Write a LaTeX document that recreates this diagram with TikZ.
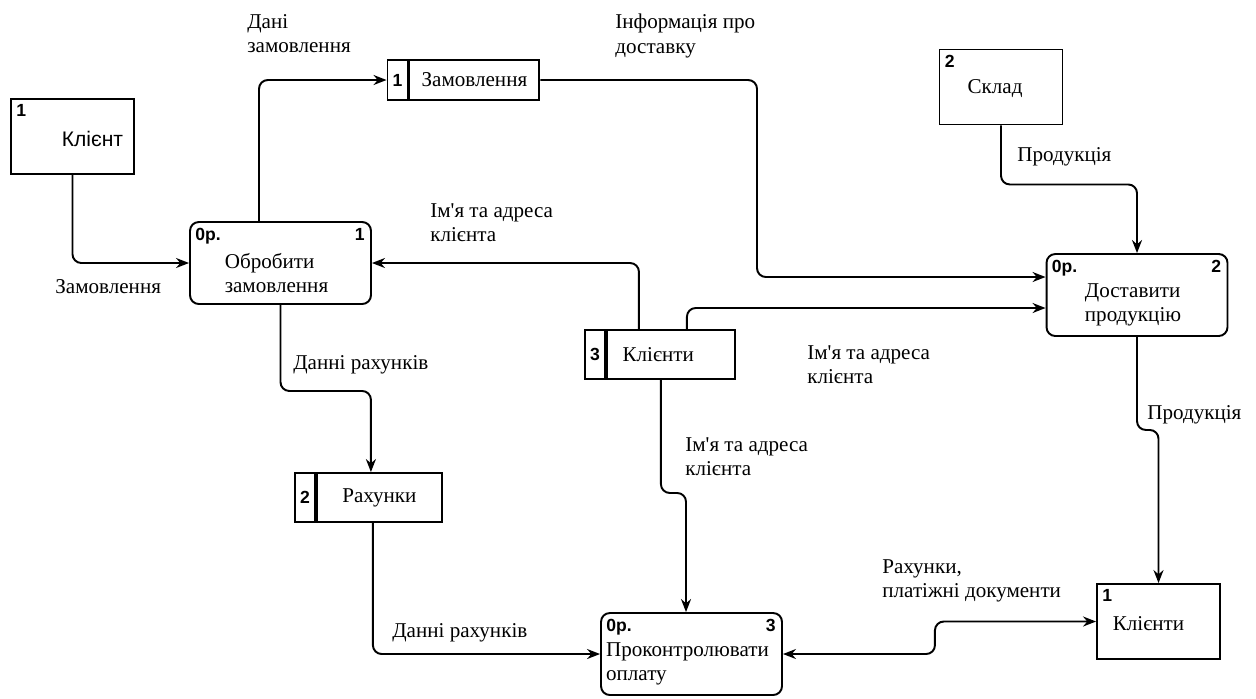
\documentclass[tikz,border=0pt]{standalone}
\usepackage{fontspec}
\setmainfont{Liberation Serif}[Ligatures=TeXOff]
\newfontfamily\numfont{Liberation Sans}
\usetikzlibrary{arrows.meta,positioning,calc}

\begin{document}
\begin{tikzpicture}[x=0.02cm,y=-0.02cm,>={Stealth[length=2.6mm,width=2mm]},
  font=\fontsize{12}{13.8}\selectfont,
  ent/.style={draw,line width=1.1pt,minimum width=2.46cm,minimum height=1.5cm,inner sep=0pt},
  proc/.style={draw,line width=1.1pt,rounded corners=5pt,minimum width=3.62cm,minimum height=1.64cm,inner sep=0pt},
  sid/.style={draw,line width=1.1pt,minimum width=0.4cm,minimum height=#1,inner sep=0pt,font=\numfont\bfseries\fontsize{10}{12}\selectfont},
  sname/.style={draw,line width=1.1pt,minimum height=#1,inner sep=0pt},
  num/.style={inner sep=0pt,font=\numfont\bfseries\fontsize{10}{12}\selectfont},
  lbl/.style={align=left,inner sep=0pt,anchor=north west},
  flow/.style={->,line width=1.1pt,rounded corners=5pt}]
\useasboundingbox (0,0) rectangle (1256,698);
\foreach \n/\i/\x/\y/\t/\dx in {K/1/72.5/136.5/{\numfont Клієнт}/20,W/2/1001/87/Склад/-6,C/1/1158.5/621.5/Клієнти/-10}{
  \node[ent] (\n) at (\x,\y) {};
  \node[num,anchor=north west] (\n n) at ([shift={(6,6)}]\n.north west) {\i};
  \node (\n t) at ([shift={(\dx,2)}]\n.center) {\t};
}
\foreach \n/\i/\x/\y/\t in {P1/1/280.5/263/{Обробити\\замовлення},P2/2/1137/295/{Доставити\\продукцію},P3/3/691.5/654/{Проконтролювати\\оплату}}{
  \node[proc] (\n) at (\x,\y) {};
  \node[align=left,inner sep=0pt] (\n t) at ([shift={(-4,10)}]\n.center) {\t};
  \node[num,anchor=north west] (\n a) at ([shift={(6,7)}]\n.north west) {0р.};
  \node[num,anchor=north east] (\n b) at ([shift={(-7,7)}]\n.north east) {\i};
}
\node[sid=0.8cm] (D1n) at (397.5,80) {1};
\node[sname=0.8cm,minimum width=2.6cm,right=0pt of D1n] (D1) {Замовлення};
\node[sid=0.98cm] (D2n) at (305,497.5) {2};
\node[sname=0.98cm,minimum width=2.5cm,right=0pt of D2n] (D2) {Рахунки};
\node[sid=0.98cm] (D3n) at (595,354.5) {3};
\node[sname=0.98cm,minimum width=2.56cm,right=0pt of D3n] (D3) {Клієнти\hspace*{1.2em}};
\draw[flow] (K.south) |- (P1.west);
\draw[flow] ([xshift=-0.43cm]P1.north) |- (D1n.west);
\draw[flow] (D1.east) -| (757,200) |- ([yshift=0.36cm]P2.west);
\draw[flow] (W.south) -- ++(0,59) -| (P2.north);
\draw[flow] ([xshift=-0.64cm]D3.north) |- (P1.east);
\draw[flow] ([xshift=0.32cm]D3.north) |- ([yshift=-0.26cm]P2.west);
\draw[flow] (P1.south) -- ++(0,86) -| ([xshift=-0.17cm]D2.north);
\draw[flow] ([xshift=-0.2cm]D3.south) -- ++(0,113) -| ([xshift=-0.11cm]P3.north);
\draw[flow] ([xshift=-0.13cm]D2.south) |- (P3.west);
\draw[flow] (P2.south) -- ++(0,93) -| (C.north);
\draw[flow,<->] (P3.east) -- ++(152,0) |- (C.west);
\node[lbl] (L1) at (247,14) {Дані\\замовлення};
\node[lbl] (L2) at (615,14) {Інформація про\\доставку};
\node[lbl] (L3) at (55,279) {Замовлення};
\node[lbl] (L4) at (430,203) {Ім'я та адреса\\клієнта};
\node[lbl] (L5) at (1017,147) {Продукція};
\node[lbl] (L6) at (293,355) {Данні рахунків};
\node[lbl] (L7) at (807,345) {Ім'я та адреса\\клієнта};
\node[lbl] (L8) at (685,437) {Ім'я та адреса\\клієнта};
\node[lbl] (L9) at (1147,405) {Продукція};
\node[lbl] (L10) at (392,623) {Данні рахунків};
\node[lbl] (L11) at (882,559) {Рахунки,\\платіжні документи};
\end{tikzpicture}
\end{document}
